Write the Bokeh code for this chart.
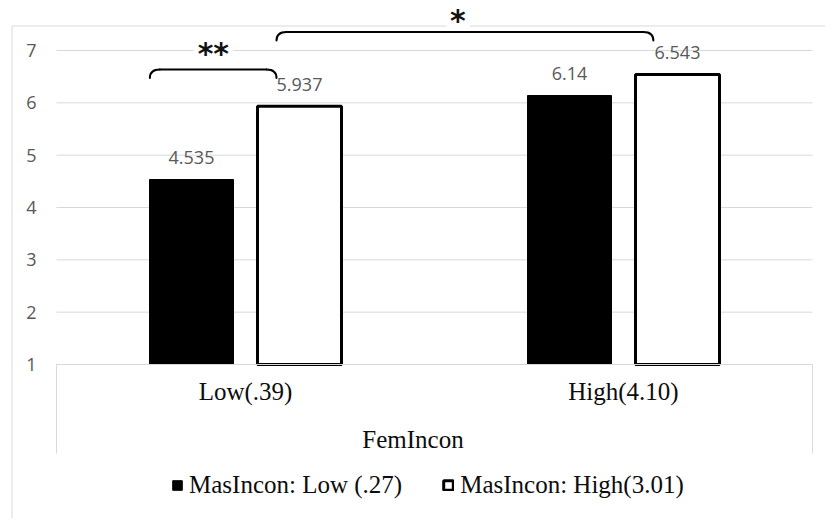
import numpy as np
from bokeh.plotting import figure
from bokeh.models import (ColumnDataSource, Range1d, LinearAxis, FixedTicker,
                          Legend, LegendItem)
from bokeh.transform import dodge
from bokeh.core.properties import value
from bokeh.embed import file_html
from bokeh.resources import INLINE

# ---------------- data ----------------
categories = ["Low(.39)", "High(4.10)"]
axis_title = "FemIncon"
series_names = ["MasIncon: Low (.27)", "MasIncon: High(3.01)"]
mas_low = [4.535, 6.14]
mas_high = [5.937, 6.543]
y_ticks = [1, 2, 3, 4, 5, 6, 7]
sig_labels = ["**", "*"]

# ---------------- geometry (px) ----------------
W, H = 825, 518
PX_LEFT, PX_RIGHT = 56, 812      # plot-area horizontal extent
PY_BASE, PY_TOP = 364, 50        # rows of first and last y tick
Y0, Y1 = y_ticks[0], y_ticks[-1]
n = len(categories)
sx = (PX_RIGHT - PX_LEFT) / n
sy = (PY_BASE - PY_TOP) / (Y1 - Y0)


def xd(px):
    return (px - PX_LEFT) / sx


def yd(py):
    return Y0 + (PY_BASE - py) / sy


BAR_W = 84 / sx
OFF = 54 / sx

GRID = "#d9d9d9"
TICK_COLOR = "#595959"
SERIF = "Liberation Serif"
SANS = "Open Sans"

p = figure(width=W, height=H,
           x_range=Range1d(xd(0), xd(W)), y_range=Range1d(yd(H), yd(0)),
           output_backend="svg", toolbar_location=None,
           x_axis_type=None, y_axis_type=None, min_border=0, title=None)
p.outline_line_color = None
p.background_fill_color = "white"
p.border_fill_color = "white"

xc = np.arange(n) + 0.5
src = ColumnDataSource(dict(
    x=xc, cat=categories, low=mas_low, high=mas_high,
    low_lbl=[str(v) for v in mas_low], high_lbl=[str(v) for v in mas_high]))

# chart-area border (top and left)
p.line(x=[xd(11.5), xd(11.5), xd(W)], y=[yd(H), yd(25.5), yd(25.5)],
       line_color=GRID, line_width=1)

# gridlines over plot area
p.segment(x0=0, x1=n, y0=y_ticks, y1=y_ticks, line_color=GRID, line_width=1)

# bars
r_low = p.vbar(x=dodge("x", -OFF), top="low", bottom=Y0, width=BAR_W, source=src,
               fill_color="black", line_color="black", line_width=1)
r_high = p.vbar(x=dodge("x", OFF), top="high", bottom=Y0, width=BAR_W, source=src,
                fill_color="white", line_color="black", line_width=3)

# data labels
lbl_kw = dict(text_align="center", text_baseline="alphabetic", y_offset=-22,
              text_font=value(SANS), text_font_size="18px", text_color=TICK_COLOR)
p.text(x=dodge("x", -OFF), y="low", text="low_lbl", source=src, **lbl_kw)
p.text(x=dodge("x", OFF), y="high", text="high_lbl", source=src, **lbl_kw)

# significance brackets
sig_x0 = np.array([0.247, 0.582])
sig_x1 = np.array([0.582, 1.579])
sig_top = np.array([6.637, 7.354])
sig_tx = [0.415, 1.062]
sig_ty = [7.010, 7.650]
drop = 8.5 / sy
rad = 10 / sx

p.text(x=sig_tx, y=sig_ty, text=sig_labels, text_align="center",
       text_baseline="alphabetic", y_offset=4,
       text_font=value("DejaVu Sans"), text_font_style="bold",
       text_font_size="30px", text_color="#111111",
       background_fill_color="white", padding=4)

br_kw = dict(line_color="black", line_width=2, line_cap="round")
p.segment(x0=sig_x0 + rad, y0=sig_top, x1=sig_x1 - rad, y1=sig_top, **br_kw)
p.quadratic(x0=sig_x0, y0=sig_top - drop, x1=sig_x0 + rad, y1=sig_top,
            cx=sig_x0, cy=sig_top, **br_kw)
p.quadratic(x0=sig_x1 - rad, y0=sig_top, x1=sig_x1, y1=sig_top - drop,
            cx=sig_x1, cy=sig_top, **br_kw)

# y axis
ax_y = LinearAxis(fixed_location=0, ticker=FixedTicker(ticks=y_ticks),
                  axis_line_color=None, major_tick_line_color=None,
                  minor_tick_line_color=None, major_tick_in=0, major_tick_out=0,
                  major_label_standoff=20, major_label_text_font=SANS,
                  major_label_text_font_size="18px",
                  major_label_text_color=TICK_COLOR)
p.add_layout(ax_y, "left")

# x axis: frame lines of the category box
ax_box = LinearAxis(fixed_location=Y0, ticker=FixedTicker(ticks=[0, n]),
                    bounds=(0, n), axis_line_color=GRID, axis_line_width=1,
                    major_tick_line_color=GRID, major_tick_in=0, major_tick_out=89,
                    minor_tick_line_color=None, major_label_text_color=None)
p.add_layout(ax_box, "below")

# x axis: category labels and title
ax_cat = LinearAxis(fixed_location=Y0, ticker=FixedTicker(ticks=list(xc)),
                    major_label_overrides={float(x): c for x, c in zip(xc, categories)},
                    axis_line_color=None, major_tick_line_color=None,
                    minor_tick_line_color=None, major_tick_in=0, major_tick_out=0,
                    major_label_standoff=13, major_label_text_font=SERIF,
                    major_label_text_font_size="25px",
                    major_label_text_color="#0d0d0d",
                    axis_label=axis_title, axis_label_text_font=SERIF,
                    axis_label_text_font_style="normal",
                    axis_label_text_font_size="25px",
                    axis_label_text_color="#0d0d0d", axis_label_standoff=18)
p.add_layout(ax_cat, "below")

# legend
legend = Legend(items=[LegendItem(label=series_names[0], renderers=[r_low]),
                       LegendItem(label=series_names[1], renderers=[r_high])],
                orientation="horizontal", location=(171, 19),
                glyph_width=12, glyph_height=12, label_standoff=6, spacing=40,
                padding=0, margin=0, border_line_color=None,
                background_fill_alpha=0, label_text_font=SERIF,
                label_text_font_size="25px", label_text_color="#0d0d0d")
p.add_layout(legend)

open("out.html", "w").write(file_html(p, INLINE))
